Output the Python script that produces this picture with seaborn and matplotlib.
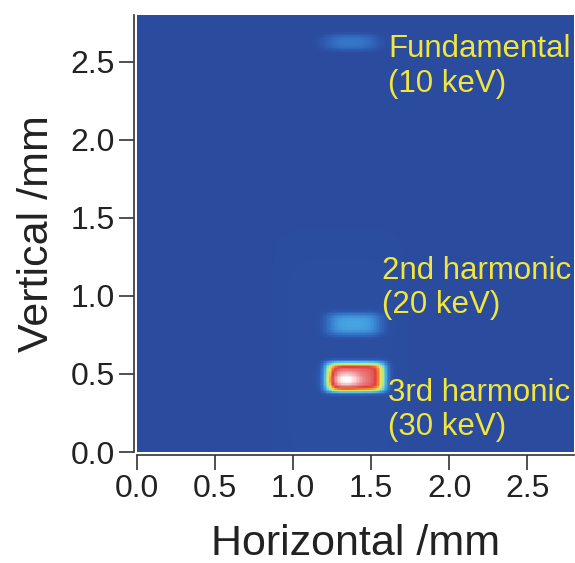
import numpy as np
import pandas as pd
import matplotlib
matplotlib.use('Agg')
import matplotlib.pyplot as plt
from matplotlib.colors import LinearSegmentedColormap
import seaborn as sns

sns.set_style('ticks')
plt.rcParams['font.family'] = ['Liberation Sans', 'DejaVu Sans']

# Spot parameters (mm)
spot_names = ['Fundamental', '2nd harmonic', '3rd harmonic', 'core', 'halo']
spot_x = [1.37, 1.39, 1.40, 1.34, 1.30]
spot_y = [2.625, 0.82, 0.48, 0.465, 0.60]
spot_wx = [0.17, 0.17, 0.19, 0.10, 0.45]
spot_wy = [0.05, 0.07, 0.095, 0.05, 0.85]
spot_pow = [3, 4, 6, 2, 6]
spot_amp = [0.15, 0.28, 1.00, 0.30, 0.012]

label_text = ['Fundamental\n(10 keV)', '2nd harmonic\n(20 keV)', '3rd harmonic\n(30 keV)']
label_x = [1.61, 1.57, 1.61]
label_y = [2.47, 1.05, 0.27]

tick_vals = [0.0, 0.5, 1.0, 1.5, 2.0, 2.5]
extent = 2.8
step = 0.01

# intensity grid
n = int(round(extent / step))
centres = (np.arange(n) + 0.5) * step
X, Y = np.meshgrid(centres, centres)
Z = np.zeros_like(X)
for x0, y0, wx, wy, p, a in zip(spot_x, spot_y, spot_wx, spot_wy, spot_pow, spot_amp):
    Z += a * np.exp(-np.abs((X - x0) / wx) ** p) * np.exp(-np.abs((Y - y0) / wy) ** p)
df = pd.DataFrame(np.clip(Z, 0, 1.3), index=centres, columns=centres)

cmap = LinearSegmentedColormap.from_list('beam', [
    (0.00, '#2a4b9e'),
    (0.06, '#2f62b8'),
    (0.18, '#3d8fd9'),
    (0.30, '#55c4ec'),
    (0.42, '#b8e67a'),
    (0.52, '#f2e24a'),
    (0.62, '#f08a3a'),
    (0.72, '#e0403f'),
    (0.85, '#ec8a8c'),
    (1.00, '#ffffff'),
])

fig = plt.figure(figsize=(5.75, 5.63), dpi=100)
ax = fig.add_axes([137 / 575, 111 / 563, 437 / 575, 437 / 563])
sns.heatmap(df, cmap=cmap, vmin=0, vmax=1.3, cbar=False, ax=ax,
            xticklabels=False, yticklabels=False, rasterized=True)
ax.set_xlim(0, n)
ax.set_ylim(0, n)

ax.set_xticks([v / step for v in tick_vals])
ax.set_xticklabels([f'{v:.1f}' for v in tick_vals], rotation=0)
ax.set_yticks([v / step for v in tick_vals])
ax.set_yticklabels([f'{v:.1f}' for v in tick_vals], rotation=0)
ax.tick_params(axis='both', labelsize=23, length=11, width=1.2,
               color='#333333', labelcolor='#222222', direction='out', pad=3)

for side in ['left', 'bottom']:
    ax.spines[side].set_visible(True)
    ax.spines[side].set_color('#333333')
    ax.spines[side].set_linewidth(1.2)
    ax.spines[side].set_position(('outward', 2))
for side in ['top', 'right']:
    ax.spines[side].set_visible(False)

ax.set_xlabel('Horizontal /mm', fontsize=31, color='#222222', labelpad=14)
ax.set_ylabel('Vertical /mm', fontsize=31, color='#222222', labelpad=10)

for txt, lx, ly in zip(label_text, label_x, label_y):
    ax.text(lx / step, ly / step, txt, color='#f0e63c', fontsize=22.5,
            ha='left', va='center', linespacing=1.2, clip_on=False)

fig.savefig('out.png', dpi=100)
